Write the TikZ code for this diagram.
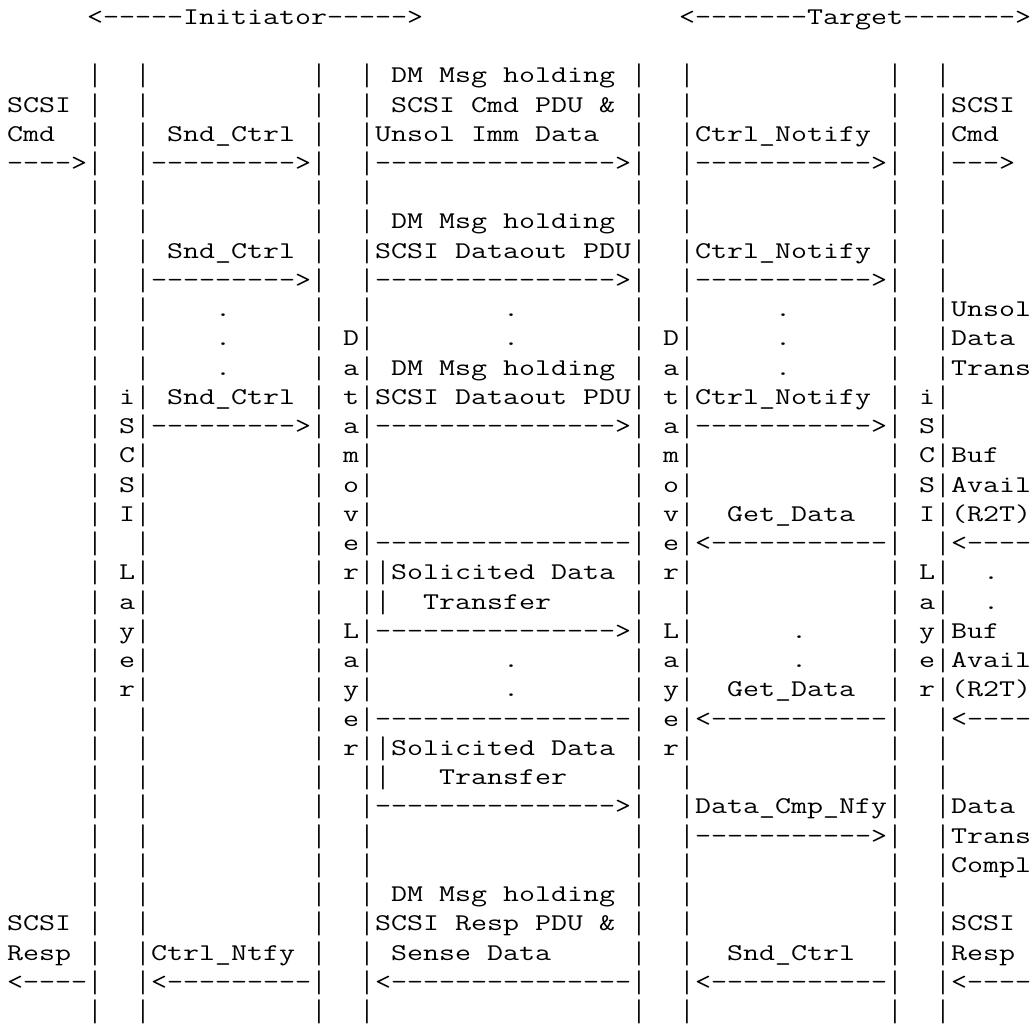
\documentclass[tikz,border=0pt]{standalone}
\usepackage{fontspec}
\usepackage{graphicx}
\newfontfamily\barfont{Liberation Mono}
\newlength\cwid
\tikzset{
  txt/.style={anchor=base west, inner sep=0pt, outer sep=0pt},
  barc/.style={anchor=base, inner sep=0pt, outer sep=0pt, font=\barfont\fontsize{12.8}{14}\selectfont},
}
\newcommand\tx[1]{\scalebox{\xs}[1]{\ttfamily\fontsize{12}{14}\selectfont #1}}
\newcommand\vbar{\scalebox{0.8}[1]{|}}
\newcommand\dsh[1]{\foreach\ii in {1,...,#1}{-\kern0pt}}
\newcommand\arR[1]{\dsh{#1}>}
\newcommand\arL[1]{<\dsh{#1}}
\newcommand\rowtext[2]{\foreach \cc/\sg [count=\kk] in {#2}{\node[txt] (r#1-\kk) at ({3.5pt+8pt*\cc},{-12.15pt-14.62pt*#1}) {\tx{\sg}};}}
\begin{document}
\settowidth\cwid{\ttfamily\fontsize{12}{14}\selectfont M}%
\pgfmathsetmacro\xs{8/\cwid}%
\begin{tikzpicture}
\fill[white] (0,0) rectangle (516.5pt,-515pt);
\useasboundingbox (0,0) rectangle (516.5pt,-515pt);
% lifelines drawn as ASCII bars
\foreach \rr in {2,...,34}{
  \foreach \cc in {5,8,19,22,39,42,55,58}{
    \node[barc] (b\rr-\cc) at ({7.5pt+8pt*\cc},{-12.15pt-14.62pt*\rr}) {\vbar};
  }
}
\foreach \rr in {19,20,25,26}{
  \node[barc] (b\rr-23) at ({7.5pt+8pt*23},{-12.15pt-14.62pt*\rr}) {\vbar};
}
\rowtext{0}{5/{<\dsh{5}Initiator\dsh{5}>}, 42/{<\dsh{7}Target\dsh{7}>}}
\rowtext{2}{24/DM Msg holding}
\rowtext{3}{0/SCSI, 24/SCSI Cmd PDU \&, 59/SCSI}
\rowtext{4}{0/Cmd, 10/Snd\_Ctrl, 23/Unsol Imm Data, 43/Ctrl\_Notify, 59/Cmd}
\rowtext{5}{0/{\arR{4}}, 9/{\arR{9}}, 23/{\arR{15}}, 43/{\arR{11}}, 59/{\arR{3}}}
\rowtext{7}{24/DM Msg holding}
\rowtext{8}{10/Snd\_Ctrl, 23/SCSI Dataout PDU, 43/Ctrl\_Notify}
\rowtext{9}{9/{\arR{9}}, 23/{\arR{15}}, 43/{\arR{11}}}
\rowtext{10}{13/., 31/., 48/., 59/Unsol}
\rowtext{11}{13/., 21/D, 31/., 41/D, 48/., 59/Data}
\rowtext{12}{13/., 21/a, 24/DM Msg holding, 41/a, 48/., 59/Trans}
\rowtext{13}{7/i, 10/Snd\_Ctrl, 21/t, 23/SCSI Dataout PDU, 41/t, 43/Ctrl\_Notify, 57/i}
\rowtext{14}{7/S, 9/{\arR{9}}, 21/a, 23/{\arR{15}}, 41/a, 43/{\arR{11}}, 57/S}
\rowtext{15}{7/C, 21/m, 41/m, 57/C, 59/Buf}
\rowtext{16}{7/S, 21/o, 41/o, 57/S, 59/Avail}
\rowtext{17}{7/I, 21/v, 41/v, 45/Get\_Data, 57/I, 59/(R2T)}
\rowtext{18}{21/e, 23/{\dsh{16}}, 41/e, 43/{\arL{11}}, 59/{\arL{4}}}
\rowtext{19}{7/L, 21/r, 24/Solicited Data, 41/r, 57/L, 61/.}
\rowtext{20}{7/a, 26/Transfer, 57/a, 61/.}
\rowtext{21}{7/y, 21/L, 23/{\arR{15}}, 41/L, 49/., 57/y, 59/Buf}
\rowtext{22}{7/e, 21/a, 31/., 41/a, 49/., 57/e, 59/Avail}
\rowtext{23}{7/r, 21/y, 31/., 41/y, 45/Get\_Data, 57/r, 59/(R2T)}
\rowtext{24}{21/e, 23/{\dsh{16}}, 41/e, 43/{\arL{11}}, 59/{\arL{4}}}
\rowtext{25}{21/r, 24/Solicited Data, 41/r}
\rowtext{26}{27/Transfer}
\rowtext{27}{23/{\arR{15}}, 43/Data\_Cmp\_Nfy, 59/Data}
\rowtext{28}{43/{\arR{11}}, 59/Trans}
\rowtext{29}{59/Compl}
\rowtext{30}{24/DM Msg holding}
\rowtext{31}{0/SCSI, 23/SCSI Resp PDU \&, 59/SCSI}
\rowtext{32}{0/Resp, 9/Ctrl\_Ntfy, 24/Sense Data, 45/Snd\_Ctrl, 59/Resp}
\rowtext{33}{0/{\arL{4}}, 9/{\arL{9}}, 23/{\arL{15}}, 43/{\arL{11}}, 59/{\arL{4}}}
\end{tikzpicture}
\end{document}
